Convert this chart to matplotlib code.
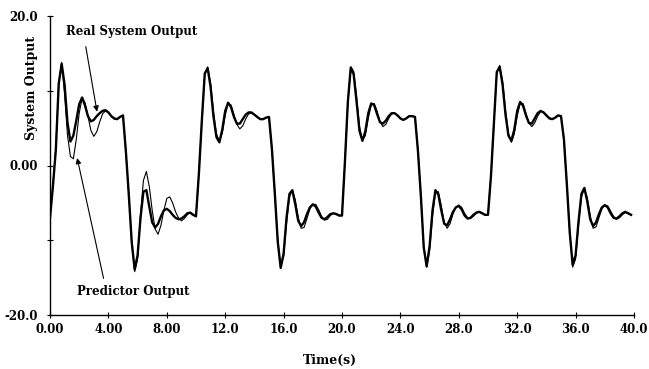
import numpy as np
import matplotlib
matplotlib.use('Agg')
import matplotlib.pyplot as plt

time_step = 0.2

real_output = [
    -7.0, -2.8, 2.1, 11.0, 13.6, 10.8, 5.7, 3.2, 4.0, 6.0,
    8.2, 9.1, 8.0, 6.6, 5.9, 6.1, 6.6, 7.0, 7.3, 7.4,
    7.1, 6.6, 6.3, 6.2, 6.5, 6.7, 1.8, -4.0, -10.3, -13.9,
    -12.0, -7.0, -3.5, -3.3, -5.5, -7.6, -8.3, -7.8, -6.8, -6.0,
    -5.8, -6.1, -6.6, -7.0, -7.2, -7.1, -6.8, -6.4, -6.3, -6.6,
    -6.8, -1.0, 6.0, 12.3, 13.0, 10.5, 6.5, 3.8, 3.1, 4.8,
    7.3, 8.4, 7.8, 6.5, 5.6, 5.6, 6.2, 6.8, 7.1, 7.1,
    6.8, 6.5, 6.2, 6.2, 6.4, 6.5, 2.2, -3.8, -10.2, -13.7,
    -11.8, -7.0, -3.8, -3.3, -5.2, -7.4, -8.1, -7.6, -6.5, -5.6,
    -5.2, -5.5, -6.3, -7.0, -7.2, -6.9, -6.5, -6.4, -6.5, -6.7,
    -6.7, 0.5, 8.5, 13.1, 12.2, 8.5, 4.6, 3.3, 4.6, 7.0,
    8.3, 8.1, 6.9, 5.8, 5.6, 6.0, 6.6, 7.0, 7.0, 6.7,
    6.3, 6.1, 6.3, 6.6, 6.6, 6.5, 2.0, -4.0, -11.0, -13.5,
    -10.8, -6.0, -3.3, -3.9, -6.0, -7.8, -8.0, -7.2, -6.2, -5.6,
    -5.4, -5.9, -6.7, -7.1, -7.0, -6.6, -6.3, -6.2, -6.4, -6.6,
    -6.6, -1.5, 5.5, 12.5, 13.2, 10.8, 6.8, 4.0, 3.3, 4.8,
    7.3, 8.5, 8.0, 6.7, 5.7, 5.6, 6.3, 7.0, 7.3, 7.1,
    6.7, 6.3, 6.2, 6.4, 6.7, 6.6, 3.5, -2.5, -9.0, -13.3,
    -12.0, -7.5, -3.8, -3.0, -4.8, -7.2, -8.1, -7.6, -6.5, -5.6,
    -5.3, -5.6, -6.4, -7.0, -7.1, -6.8, -6.4, -6.2, -6.4, -6.6,
]

predictor_output = [
    -7.0, -2.5, 2.5, 11.0, 13.8, 9.5, 4.0, 1.2, 0.9, 3.5,
    7.0, 9.0, 8.4, 6.6, 4.7, 3.9, 4.5, 5.8, 6.9, 7.3,
    7.1, 6.6, 6.2, 6.2, 6.5, 6.7, 1.8, -4.0, -10.5, -14.2,
    -12.5, -6.5, -2.0, -0.8, -2.8, -6.0, -8.5, -9.2, -8.0, -6.0,
    -4.4, -4.2, -5.0, -6.2, -7.0, -7.4, -7.1, -6.6, -6.3, -6.5,
    -6.8, -1.0, 6.0, 12.3, 13.2, 11.0, 7.2, 4.2, 3.3, 4.3,
    6.7, 8.3, 8.1, 6.8, 5.5, 4.9, 5.3, 6.2, 6.9, 7.0,
    6.8, 6.4, 6.2, 6.2, 6.4, 6.5, 2.2, -3.8, -10.0, -13.5,
    -12.2, -7.8, -4.2, -3.3, -4.6, -6.9, -8.4, -8.3, -7.1, -5.8,
    -5.2, -5.2, -5.9, -6.8, -7.3, -7.2, -6.7, -6.4, -6.4, -6.6,
    -6.7, 0.5, 8.3, 13.2, 12.6, 9.2, 5.2, 3.4, 4.0, 6.3,
    8.1, 8.3, 7.3, 5.9, 5.2, 5.5, 6.3, 6.9, 7.0, 6.7,
    6.3, 6.1, 6.3, 6.6, 6.6, 6.5, 2.0, -4.0, -10.8, -13.6,
    -11.4, -6.8, -3.6, -3.5, -5.4, -7.6, -8.4, -7.8, -6.5, -5.6,
    -5.3, -5.6, -6.4, -7.0, -7.1, -6.8, -6.4, -6.2, -6.3, -6.6,
    -6.6, -1.5, 5.3, 12.3, 13.4, 11.3, 7.4, 4.3, 3.1, 4.2,
    6.6, 8.3, 8.3, 7.0, 5.7, 5.2, 5.7, 6.6, 7.2, 7.2,
    6.8, 6.4, 6.2, 6.4, 6.7, 6.6, 3.5, -2.5, -9.0, -13.6,
    -12.5, -8.0, -4.2, -3.1, -4.3, -6.7, -8.4, -8.2, -7.0, -5.8,
    -5.3, -5.4, -6.1, -6.8, -7.2, -7.0, -6.6, -6.3, -6.3, -6.6,
]

x_ticks = [0, 4, 8, 12, 16, 20, 24, 28, 32, 36, 40]
x_tick_labels = ['0.00', '4.00', '8.00', '12.0', '16.0', '20.0',
                 '24.0', '28.0', '32.0', '36.0', '40.0']
y_ticks = [-20, -10, 0, 10, 20]
y_tick_labels = ['-20.0', '', '0.00', '', '20.0']

plt.rcParams['font.family'] = ['DejaVu Serif']
plt.rcParams['font.weight'] = 'bold'

t = np.arange(len(real_output)) * time_step

fig = plt.figure(figsize=(6.49, 3.69), dpi=100)
ax = fig.add_axes([50 / 649, 54 / 369, 584 / 649, 299 / 369])

ax.plot(t, predictor_output, color='black', lw=0.8)
ax.plot(t, real_output, color='black', lw=1.7)

ax.set_xlim(0, 40)
ax.set_ylim(-20, 20)
ax.spines['top'].set_visible(False)
ax.spines['right'].set_visible(False)
ax.spines['left'].set_linewidth(1.0)
ax.spines['bottom'].set_linewidth(1.0)

ax.set_xticks(x_ticks)
ax.set_xticklabels(x_tick_labels)
ax.set_yticks(y_ticks)
ax.set_yticklabels(y_tick_labels)
ax.tick_params(axis='both', direction='inout', length=5, width=0.8, labelsize=8.5)
ax.tick_params(axis='y', pad=6)
ax.tick_params(axis='x', pad=3)
for lbl in ax.get_xticklabels() + ax.get_yticklabels():
    lbl.set_fontweight('bold')

fig.text(32 / 649, 1 - 88 / 369, 'System Output', rotation=90,
         ha='center', va='center', fontsize=9, fontweight='bold')
fig.text(330 / 649, 1 - 360 / 369, 'Time(s)', ha='center', va='center',
         fontsize=9, fontweight='bold')

arrow = dict(arrowstyle='-|>', color='black', lw=0.8, mutation_scale=8,
             shrinkA=0, shrinkB=0)
ax.annotate('', xy=(3.22, 7.2), xytext=(2.45, 15.9), arrowprops=arrow)
ax.text(5.56, 17.97, 'Real System Output', ha='center', va='center',
        fontsize=8.5, fontweight='bold')
ax.annotate('', xy=(1.86, 1.0), xytext=(3.67, -15.1), arrowprops=arrow)
ax.text(5.71, -16.9, 'Predictor Output', ha='center', va='center',
        fontsize=8.5, fontweight='bold')

fig.savefig('out.png', dpi=100)
plt.close(fig)
